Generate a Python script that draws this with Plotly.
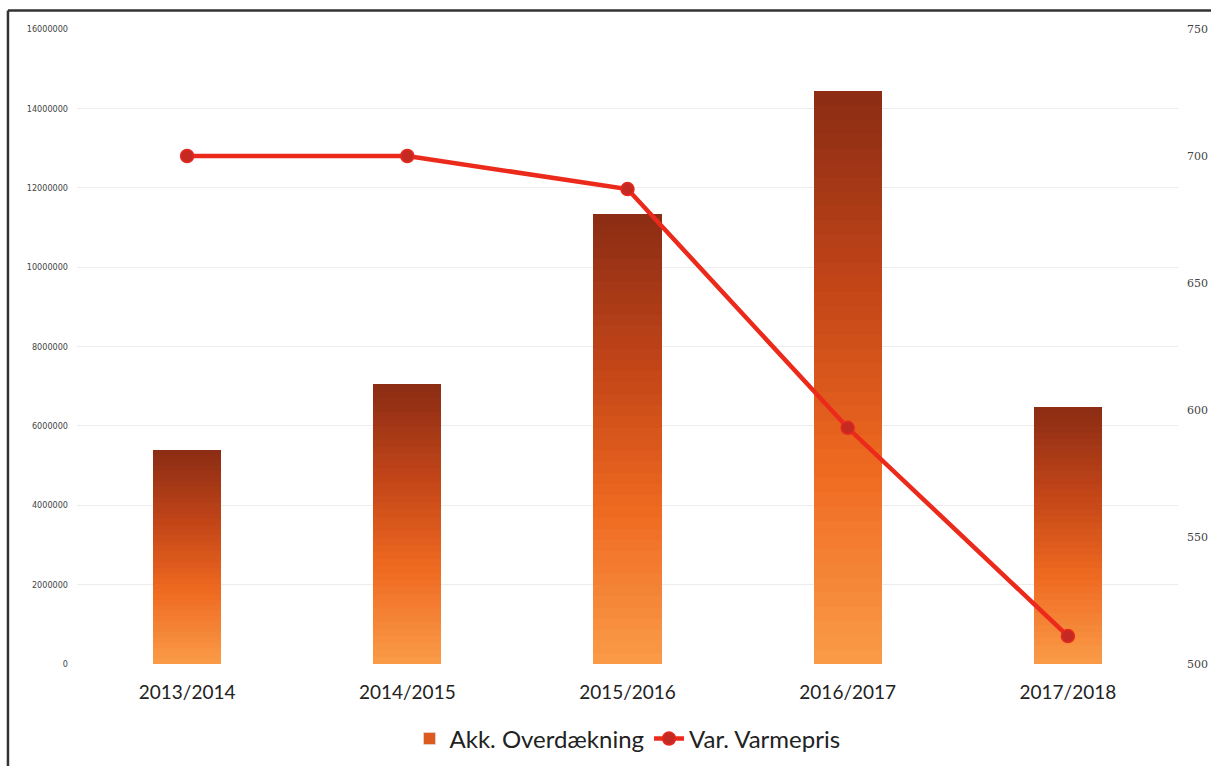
import plotly.graph_objects as go
import numpy as np

categories = ["2013/2014", "2014/2015", "2015/2016", "2016/2017", "2017/2018"]
overdaekning = [5400000, 7050000, 11350000, 14430000, 6480000]
varmepris = [700, 700, 687, 593, 511]
left_ticks = [0, 2000000, 4000000, 6000000, 8000000, 10000000, 12000000, 14000000, 16000000]
right_ticks = [500, 550, 600, 650, 700, 750]

# gradient stops (bottom -> top)
stops = [(0.0, (250, 156, 72)), (0.35, (238, 104, 32)), (0.65, (196, 70, 24)), (1.0, (138, 44, 20))]

def grad(t):
    for (t0, c0), (t1, c1) in zip(stops[:-1], stops[1:]):
        if t <= t1:
            f = (t - t0) / (t1 - t0)
            return "rgb(%d,%d,%d)" % tuple(int(round(a + (b - a) * f)) for a, b in zip(c0, c1))
    return "rgb(%d,%d,%d)" % stops[-1][1]

N = 40
fig = go.Figure()
vals = np.array(overdaekning, dtype=float)
for i in range(N):
    t = (i + 0.5) / N
    fig.add_trace(go.Bar(
        x=categories, y=vals / N, marker=dict(color=grad(t), line=dict(width=0)),
        width=0.31, showlegend=False, hoverinfo="skip", yaxis="y",
    ))
# legend entry for bars
fig.add_trace(go.Bar(
    x=[None], y=[None], name="Akk. Overdækning",
    marker=dict(color="rgb(220,90,30)"), showlegend=True,
))
fig.add_trace(go.Scatter(
    x=categories, y=varmepris, name="Var. Varmepris", yaxis="y2",
    mode="lines+markers",
    line=dict(color="#EC2A1C", width=4.5),
    marker=dict(size=13, color="#C42A22", line=dict(color="#E8281E", width=1.5)),
))

fig.update_layout(
    barmode="stack", bargap=0,
    width=1211, height=766,
    margin=dict(l=77, r=33, t=29, b=102, autoexpand=False),
    paper_bgcolor="white", plot_bgcolor="white",
    font=dict(family="Lato, 'DejaVu Sans', sans-serif", color="#222"),
    xaxis=dict(
        type="category", showgrid=False, showline=False, zeroline=False, automargin=False,
        ticks="", tickfont=dict(size=19, color="#222"), ticklabelstandoff=15,
    ),
    yaxis=dict(
        range=[0, 16000000], tickvals=left_ticks, ticktext=[str(v) for v in left_ticks],
        showgrid=True, gridcolor="#EDEDED", gridwidth=1, zeroline=False, showline=False,
        automargin=False,
        tickfont=dict(size=9, color="#444", family="'DejaVu Sans Condensed', 'Liberation Sans Narrow', sans-serif"),
        ticklabelstandoff=8,
    ),
    yaxis2=dict(
        range=[500, 750], tickvals=right_ticks, overlaying="y", side="right",
        showgrid=False, zeroline=False, showline=False, automargin=False,
        tickfont=dict(size=11, color="#444", family="'DejaVu Serif', serif"),
        ticklabelstandoff=8,
    ),
    legend=dict(
        orientation="h", x=0.5, xanchor="center", y=-0.118, yanchor="middle",
        font=dict(size=24, color="#222"), traceorder="normal",
        itemwidth=30,
    ),
    shapes=[
        dict(type="line", xref="paper", yref="paper", x0=-0.0627, x1=1.04, y0=1.029, y1=1.029,
             line=dict(color="#333", width=2.5)),
        dict(type="line", xref="paper", yref="paper", x0=-0.0627, x1=-0.0627, y0=1.029, y1=-0.17,
             line=dict(color="#333", width=2.5)),
    ],
)

fig.write_html(
    "out.html",
    config={"displayModeBar": False},
    post_script="document.body.style.margin='0';document.body.style.overflow='hidden';",
)
